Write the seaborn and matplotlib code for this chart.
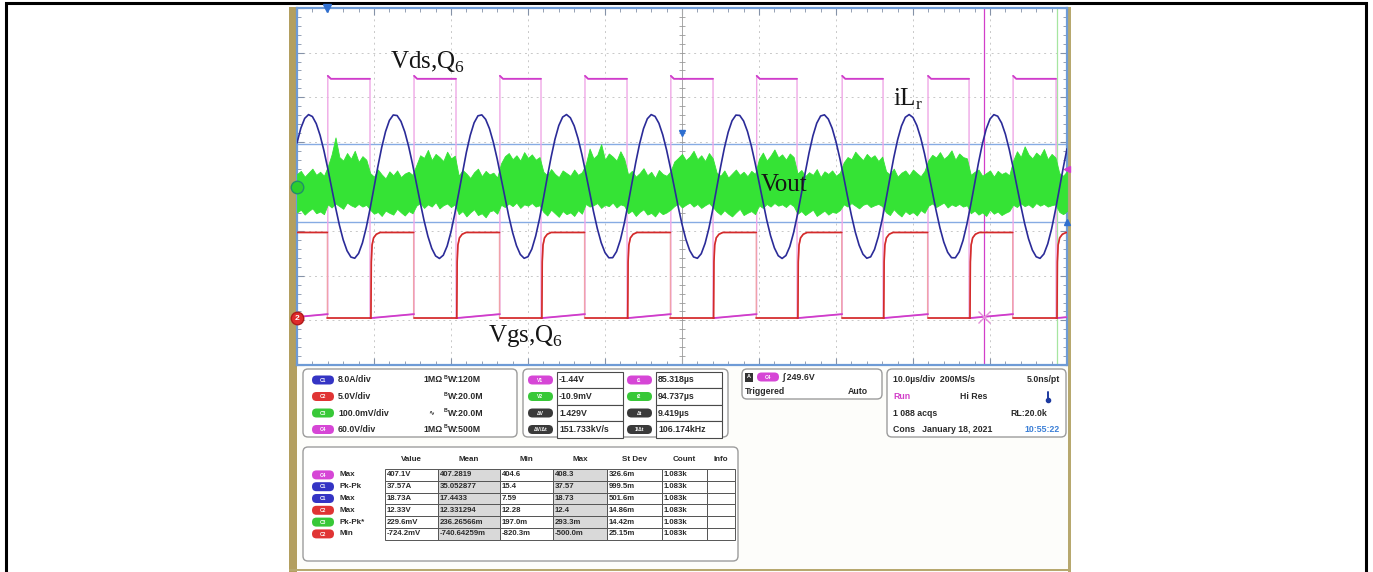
import numpy as np
import pandas as pd
import matplotlib
matplotlib.use("Agg")
import matplotlib.pyplot as plt
from matplotlib.patches import FancyBboxPatch, Rectangle
import seaborn as sns

# ---------------------------------------------------------------- data
t_window_us = [-3.9, 96.1]          # 10 div x 10 us/div, trigger at t = 0
sample_t0_us = -3.9
sample_step_us = 0.5

# channel vertical setup: units per division and ground position (div)
ch_scale = {"C1": 8.0, "C2": 5.0, "C3": 100.0, "C4": 60.0}   # A, V, mV, V
ch_offset_div = {"C1": 0.0, "C2": -2.95, "C3": 0.0, "C4": -2.95}

# C4: Vds of Q6 (switching edges and levels)
vds_rise_us = [0.1, 11.3, 22.45, 33.5, 44.65, 55.8, 66.9, 78.05, 89.1, 100.25]
vds_fall_us = [-5.55, 5.58, 16.75, 27.79, 38.96, 50.13, 61.04, 72.21, 83.38, 94.68]
vds_on_v = 321.8
vds_peak_v = 325.8
vds_settle_us = 0.4
vds_low_end_v = 5.4

# C2: Vgs of Q6
vgs_rise_us = [-5.45, 5.7, 16.85, 27.9, 39.05, 50.2, 61.15, 72.3, 83.5, 94.8]
vgs_fall_us = [0.05, 11.25, 22.4, 33.45, 44.6, 55.75, 66.85, 78.0, 89.05, 100.2]
vgs_rise_dt_us = [0.0, 0.05, 0.15, 0.35, 0.7, 1.2]
vgs_rise_v = [0.0, 6.3, 8.2, 9.0, 9.4, 9.6]

# C1: resonant inductor current iLr, one sample every 0.5 us (A)
ilr_a = [
    7.82, 10.46, 12.21, 12.89, 12.54, 11.27, 9.17, 6.41, 3.19, -0.27,
    -3.71, -6.89, -9.56, -11.52, -12.65, -12.86, -12.0, -10.1, -7.33, -3.92,
    -0.18, 3.56, 7.0, 9.85, 11.85, 12.82, 12.72, 11.68, 9.79, 7.18,
    4.05, 0.63, -2.84, -6.10, -8.92, -11.09, -12.45, -12.9, -12.32, -10.68,
    -8.12, -4.85, -1.17, 2.59, 6.15, 9.18, 11.42, 12.67, 12.84, 12.04,
    10.36, 7.92, 4.92, 1.53, -1.95, -5.29, -8.24, -10.59, -12.18, -12.87,
    -12.58, -11.21, -8.86, -5.75, -2.15, 1.64, 5.26, 8.46, 10.93, 12.45,
    12.9, 12.33, 10.87, 8.61, 5.74, 2.44, -1.03, -4.45, -7.52, -10.05,
    -11.85, -12.78, -12.76, -11.66, -9.56, -6.63, -3.12, 0.66, 4.36, 7.69,
    10.37, 12.15, 12.89, 12.57, 11.34, 9.27, 6.53, 3.32, -0.13, -3.58,
    -6.76, -9.46, -11.47, -12.63, -12.87, -12.05, -10.19, -7.46, -4.08, -0.34,
    3.43, 6.88, 9.75, 11.79, 12.8, 12.74, 11.74, 9.88, 7.30, 4.18,
    0.76, -2.71, -5.98, -8.82, -11.01, -12.41, -12.9, -12.37, -10.77, -8.24,
    -5.0, -1.33, 2.46, 6.04, 9.08, 11.35, 12.64, 12.85, 12.09, 10.44,
    8.03, 5.04, 1.69, -1.82, -5.16, -8.14, -10.51, -12.13, -12.86, -12.61,
    -11.29, -8.98, -5.9, -2.31, 1.48, 5.15, 8.36, 10.85, 12.41, 12.9,
    12.37, 10.94, 8.72, 5.86, 2.57, -0.9, -4.31, -7.42, -9.97, -11.79,
    -12.76, -12.78, -11.73, -9.66, -6.76, -3.28, 0.49, 4.22, 7.59, 10.28,
    12.1, 12.88, 12.6, 11.4, 9.38, 6.64, 3.44, 0.0, -3.44, -6.64,
    -9.36, -11.39, -12.6, -12.88, -12.1, -10.28, -7.59, -4.22, -0.49, 3.28,
    6.76,
]

# C3: output voltage ripple, max / min per 0.5 us column (mV)
vout_hi_mv = [
    28, 35, 22, 31, 40, 26, 33, 24,
    45, 72, 110, 66, 58, 75, 62, 80, 55, 68, 60,
    30, 22, 38, 27, 18, 34, 25, 36, 21, 29, 33, 26,
    48, 70, 64, 82, 59, 73, 66, 57, 78, 63, 69,
    24, 37, 29, 19, 32, 40, 23, 35, 27, 31, 20,
    52, 68, 75, 61, 70, 58, 77, 64, 72, 60, 66,
    33, 25, 39, 28, 21, 36, 30, 24, 38, 26, 32,
    50, 85, 63, 71, 95, 60, 74, 67, 58, 79, 62,
    27, 35, 22, 30, 41, 25, 33, 19, 37, 28, 24, 34,
    56, 64, 73, 59, 67, 80, 61, 70, 57, 75, 63,
    31, 24, 36, 20, 29, 38, 26, 33, 23, 35, 28,
    62, 76, 58, 69, 83, 65, 72, 60, 74, 66,
    29, 37, 23, 32, 26, 39, 21, 34, 28, 36, 24, 31,
    54, 66, 61, 78, 68, 59, 73, 64, 70, 57, 67,
    34, 27, 40, 22, 31, 36, 25, 38, 30, 23, 35,
    59, 71, 65, 77, 62, 69, 81, 60, 74, 66, 63,
    26, 33, 38, 24, 30, 36, 22, 35, 28, 32, 25,
    58, 79, 66, 90, 72, 63, 76, 68, 84, 61, 73, 65,
    30, 24, 34,
]
vout_lo_mv = [
    -58, -52, -63, -55, -49, -60, -56, -62,
    -40, -47, -38, -44, -50, -36, -42, -46, -39, -45, -41,
    -52, -61, -57, -66, -54, -59, -63, -50, -58, -65, -55, -60,
    -43, -37, -48, -40, -45, -35, -49, -42, -38, -46, -40,
    -62, -55, -67, -58, -51, -64, -60, -69, -56, -53, -61,
    -41, -46, -38, -44, -36, -48, -40, -43, -37, -45, -42,
    -57, -65, -52, -60, -68, -55, -62, -58, -66, -53, -61,
    -39, -45, -42, -37, -48, -41, -44, -36, -47, -40, -43,
    -60, -54, -66, -57, -51, -63, -59, -67, -55, -62, -58, -52,
    -44, -38, -47, -41, -36, -45, -39, -48, -42, -37, -46,
    -56, -63, -53, -61, -67, -58, -50, -64, -59, -55, -62,
    -42, -48, -39, -45, -37, -43, -40, -46, -38, -44,
    -61, -55, -64, -58, -52, -66, -60, -54, -63, -57, -59, -53,
    -40, -45, -37, -43, -49, -41, -38, -46, -42, -39, -44,
    -58, -64, -51, -60, -67, -55, -62, -57, -65, -53, -59,
    -43, -38, -46, -41, -36, -47, -40, -44, -39, -45, -42,
    -60, -54, -63, -58, -66, -52, -61, -56, -64, -59, -55,
    -41, -46, -38, -44, -40, -47, -37, -43, -39, -45, -42, -40,
    -57, -62, -55,
]

cursor_t_us = [85.318, 94.737]
cursor_h_div = [0.96, -0.80]
trig_level_v = 249.6

# readout panels
ch_names = ["C1", "C2", "C3", "C4"]
ch_scale_text = ["8.0A/div", "5.0V/div", "100.0mV/div", "60.0V/div"]
ch_term_text = ["1MΩ", "", "", "1MΩ"]
ch_bw_text = ["W:120M", "W:20.0M", "W:20.0M", "W:500M"]

cur_left_tags = ["V1", "V2", "ΔV", "ΔV/Δt"]
cur_left_vals = ["-1.44V", "-10.9mV", "1.429V", "151.733kV/s"]
cur_right_tags = ["t1", "t2", "Δt", "1/Δt"]
cur_right_vals = ["85.318µs", "94.737µs", "9.419µs", "106.174kHz"]

meas_cols = ["Value", "Mean", "Min", "Max", "St Dev", "Count", "Info"]
meas_src = ["C4", "C1", "C1", "C2", "C3", "C2"]
meas_name = ["Max", "Pk-Pk", "Max", "Max", "Pk-Pk*", "Min"]
meas_value = ["407.1V", "37.57A", "18.73A", "12.33V", "229.6mV", "-724.2mV"]
meas_mean = ["407.2819", "35.052877", "17.4433", "12.331294", "236.26566m", "-740.64259m"]
meas_min = ["404.6", "15.4", "7.59", "12.28", "197.0m", "-820.3m"]
meas_max = ["408.3", "37.57", "18.73", "12.4", "293.3m", "-500.0m"]
meas_sd = ["326.6m", "999.5m", "501.6m", "14.86m", "14.42m", "25.15m"]
meas_count = ["1.083k", "1.083k", "1.083k", "1.083k", "1.083k", "1.083k"]

# ---------------------------------------------------------------- style
sns.set_theme(style="white")
plt.rcParams["font.family"] = ["Liberation Sans", "DejaVu Sans"]

W, H, DPI = 1373, 572, 100
COL = {"C1": "#2b2b98", "C2": "#d42b2b", "C3": "#35e335", "C4": "#cf3ccb"}
BADGE = {"C1": "#3434c4", "C2": "#e03434", "C3": "#38c838", "C4": "#d646d6"}
TXT = "#2a2a2a"

fig = plt.figure(figsize=(W / DPI, H / DPI), dpi=DPI)
fig.patch.set_facecolor("white")

# pixel-space layers for the instrument frame and readouts
ov = fig.add_axes([0, 0, 1, 1], zorder=0)
ov.set_xlim(0, W); ov.set_ylim(H, 0); ov.axis("off")
top = fig.add_axes([0, 0, 1, 1], zorder=5)
top.set_xlim(0, W); top.set_ylim(H, 0); top.axis("off"); top.patch.set_alpha(0)

GX0, GY0, GX1, GY1 = 297, 8, 1067, 365
ax = fig.add_axes([GX0 / W, 1 - GY1 / H, (GX1 - GX0) / W, (GY1 - GY0) / H], zorder=2)


def to_div(vals, ch):
    return np.asarray(vals, float) / ch_scale[ch] + ch_offset_div[ch]


t0, t1 = t_window_us
t_s = sample_t0_us + sample_step_us * np.arange(len(ilr_a))

# ---------------------------------------------------------------- graticule
ax.set_facecolor("white")
ax.set_xlim(t0, t1); ax.set_ylim(-4, 4)
ax.set_xticks(np.arange(t0, t1 + 0.01, 10.0))
ax.set_yticks(np.arange(-4, 4.01, 1.0))
ax.set_xticks(np.arange(t0, t1 + 0.01, 2.0), minor=True)
ax.set_yticks(np.arange(-4, 4.01, 0.2), minor=True)
ax.tick_params(which="both", direction="in", top=True, right=True, bottom=True, left=True,
               labelbottom=False, labelleft=False, color="#8592a8")
ax.tick_params(which="major", length=5, width=0.8)
ax.tick_params(which="minor", length=3, width=0.6)
ax.grid(which="major", color="#c8c8c8", linestyle=(0, (2, 4)), lw=0.7)
for s in ax.spines.values():
    s.set_color("#6e9bd6"); s.set_linewidth(1.6)
xc = (t0 + t1) / 2
ax.axvline(xc, color="#a8a8a8", lw=0.7, zorder=1)
ax.axhline(0, color="#a8a8a8", lw=0.7, zorder=1)
ax.plot(np.full(41, xc), np.arange(-4, 4.01, 0.2), ls="none", marker="_", ms=4, color="#9a9a9a", mew=0.6)
ax.plot(np.arange(t0, t1 + 0.01, 2.0), np.zeros(51), ls="none", marker="|", ms=4, color="#9a9a9a", mew=0.6)

# cursors
for yv in cursor_h_div:
    ax.axhline(yv, color="#86abe3", lw=1.0, zorder=2)
ax.axvline(cursor_t_us[0], color="#d23fc9", lw=0.9, zorder=2)
ax.axvline(cursor_t_us[1], color="#a6e6a0", lw=0.9, zorder=2)

# ---------------------------------------------------------------- C4 Vds
full, segs = [], []
for k in range(len(vds_rise_us)):
    low = [(vds_fall_us[k], 0.0), (vds_rise_us[k], vds_low_end_v)]
    full += low
    segs += [(x, y, f"L{k}") for x, y in low]
    if k + 1 < len(vds_fall_us):
        high = [(vds_rise_us[k], vds_peak_v), (vds_rise_us[k] + vds_settle_us, vds_on_v),
                (vds_fall_us[k + 1], vds_on_v)]
        full += high
        segs += [(x, y, f"H{k}") for x, y in high]
vds_full = pd.DataFrame(full, columns=["t", "v"])
vds_full["div"] = to_div(vds_full["v"], "C4")
vds_seg = pd.DataFrame(segs, columns=["t", "v", "seg"])
vds_seg["div"] = to_div(vds_seg["v"], "C4")
sns.lineplot(data=vds_full, x="t", y="div", sort=False, estimator=None, color="#efa8e6", lw=1.0, ax=ax, zorder=3)
sns.lineplot(data=vds_seg, x="t", y="div", units="seg", sort=False, estimator=None,
             color=COL["C4"], lw=1.3, ax=ax, zorder=4)

# ---------------------------------------------------------------- C2 Vgs
full, segs = [], []
for k in range(len(vgs_rise_us)):
    on = [(vgs_rise_us[k] + dt, v) for dt, v in zip(vgs_rise_dt_us, vgs_rise_v)]
    on += [(vgs_fall_us[k], vgs_rise_v[-1])]
    off = [(vgs_fall_us[k], 0.0)]
    if k + 1 < len(vgs_rise_us):
        off += [(vgs_rise_us[k + 1], 0.0)]
    full += on + off
    segs += [(x, y, f"N{k}") for x, y in on] + [(x, y, f"F{k}") for x, y in off]
vgs_full = pd.DataFrame(full, columns=["t", "v"])
vgs_full["div"] = to_div(vgs_full["v"], "C2")
vgs_seg = pd.DataFrame(segs, columns=["t", "v", "seg"])
vgs_seg["div"] = to_div(vgs_seg["v"], "C2")
sns.lineplot(data=vgs_full, x="t", y="div", sort=False, estimator=None, color="#f0a2aa", lw=1.0, ax=ax, zorder=3)
sns.lineplot(data=vgs_seg, x="t", y="div", units="seg", sort=False, estimator=None,
             color=COL["C2"], lw=1.2, ax=ax, zorder=4)

# ---------------------------------------------------------------- C3 Vout ripple
hi = to_div(vout_hi_mv, "C3")
lo = to_div(vout_lo_mv, "C3")
ax.fill_between(t_s, lo, hi, color=COL["C3"], lw=0.6, edgecolor=COL["C3"], zorder=5)

# ---------------------------------------------------------------- C1 iLr
ilr = pd.DataFrame({"t": t_s, "div": to_div(ilr_a, "C1")})
sns.lineplot(data=ilr, x="t", y="div", sort=False, estimator=None, color=COL["C1"], lw=1.2, ax=ax, zorder=6)
ax.set_xlabel(""); ax.set_ylabel("")

# markers: ground references, trigger, cursor readout point
ax.plot(t0, ch_offset_div["C3"], "o", ms=9, color="#2ccf2c", mec="#1f8f6a", mew=1.0, clip_on=False, zorder=9)
ax.plot(t0, ch_offset_div["C2"], "o", ms=9, color="#e02a2a", mec="#b01a1a", clip_on=False, zorder=9)
ax.text(t0, ch_offset_div["C2"], "2", color="white", fontsize=6, fontweight="bold",
        ha="center", va="center", zorder=10, clip_on=False)
ax.plot(0, 4, "v", ms=6, color="#2f6fd0", clip_on=False, zorder=9)
ax.plot(xc, trig_level_v / ch_scale["C4"] + ch_offset_div["C4"], "v", ms=5, color="#2f6fd0", zorder=9)
ax.plot(t1, cursor_h_div[1], "^", ms=5, color="#2f6fd0", clip_on=False, zorder=9)
ax.plot(t1, 0.4, "<", ms=4, color="#d23fc9", clip_on=False, zorder=9)
xt = cursor_t_us[0]
ax.plot(xt, np.interp(xt, vds_full["t"], vds_full["div"]), "x", ms=9, mew=1.0, color="#e58fd9", zorder=9)

# trace labels
SERIF = ["Liberation Serif", "DejaVu Serif"]
top.text(390, 69, r"Vds,Q$_{\mathregular{6}}$", fontsize=18, family=SERIF, color="#151515", va="baseline")
top.text(893, 106, r"iL$_{\mathregular{r}}$", fontsize=18, family=SERIF, color="#151515", va="baseline")
top.text(761, 191, "Vout", fontsize=18, family=SERIF, color="#151515", va="baseline")
top.text(488, 342, r"Vgs,Q$_{\mathregular{6}}$", fontsize=18, family=SERIF, color="#151515", va="baseline")

# ---------------------------------------------------------------- instrument frame
ov.add_patch(Rectangle((297, GY1), 771, H - GY1, fc="#fdfdfa", ec="none"))
ov.add_patch(Rectangle((289, 7), 8, H - 7, fc="#b39f5f", ec="none"))
ov.add_patch(Rectangle((1068, 7), 2.5, H - 7, fc="#b7a86e", ec="none"))
ov.add_patch(Rectangle((289, 568.5), 781, 2.5, fc="#b7a86e", ec="none"))
ov.plot([5.5, 5.5, 1365.5, 1365.5], [H + 5, 2.5, 2.5, H + 5], color="black", lw=2.2, clip_on=False,
        solid_joinstyle="miter")


def panel(x0, y0, x1, y1):
    ov.add_patch(FancyBboxPatch((x0, y0), x1 - x0, y1 - y0, boxstyle="round,pad=0,rounding_size=5",
                                fc="white", ec="#9c9c9c", lw=1.0))


def badge(x, y, color, label, w=22, h=9):
    ov.add_patch(FancyBboxPatch((x, y - h / 2), w, h, boxstyle=f"round,pad=0,rounding_size={h / 2}",
                                fc=color, ec="none", zorder=3))
    ov.text(x + w / 2, y + 0.3, label, fontsize=3.6, color="white", fontweight="bold",
            ha="center", va="center", zorder=4)


def txt(x, y, s, size=6.3, color=TXT, ha="left", weight="bold"):
    ov.text(x, y, s, fontsize=size, color=color, fontweight=weight, ha=ha, va="center", zorder=4)


rows_y = [380, 396.5, 413, 429.5]

# channel settings
panel(303, 369, 517, 437)
for i, ch in enumerate(ch_names):
    y = rows_y[i]
    badge(312, y, BADGE[ch], ch)
    txt(338, y, ch_scale_text[i])
    if ch_term_text[i]:
        txt(423, y, ch_term_text[i])
    txt(443.5, y - 2.5, "B", size=3.8)
    txt(447.5, y, ch_bw_text[i])
txt(428, rows_y[2], "∿", size=5)

# cursor readouts
panel(523, 369, 728, 437)
cell_h = 16.5
for i in range(4):
    y = rows_y[i]
    c_l = BADGE["C4"] if i == 0 else (BADGE["C3"] if i == 1 else "#3a3a3a")
    badge(528, y, c_l, cur_left_tags[i], w=25)
    badge(627, y, c_l, cur_right_tags[i], w=25)
    for cx in (557, 656):
        ov.add_patch(Rectangle((cx, y - cell_h / 2), 66, cell_h, fc="white", ec="#4a4a4a", lw=0.8, zorder=2))
    txt(559, y, cur_left_vals[i])
    txt(658, y, cur_right_vals[i])

# trigger
panel(742, 369, 882, 399)
ov.add_patch(Rectangle((745, 372.5), 8, 9, fc="#333333", ec="none", zorder=3))
ov.text(749, 377, "A", fontsize=4, color="white", fontweight="bold", ha="center", va="center", zorder=4)
badge(757, 377, BADGE["C4"], "C4")
txt(783, 377, "∫ 249.6V")
txt(745, 392, "Triggered")
txt(848, 392, "Auto")

# timebase / acquisition
panel(887, 369, 1066, 437)
txt(893, rows_y[0], "10.0µs/div  200MS/s")
txt(1060, rows_y[0], "5.0ns/pt", ha="right")
txt(893, rows_y[1], "Run", color="#d23fc9")
txt(960, rows_y[1], "Hi Res")
ov.plot([1048, 1048], [rows_y[1] - 5, rows_y[1] + 2], color="#1d3aa0", lw=1.4, zorder=4)
ov.plot(1048, rows_y[1] + 3, "o", ms=3, color="#1d3aa0", zorder=4)
txt(893, rows_y[2], "1 088 acqs")
txt(1010, rows_y[2], "RL:20.0k")
txt(893, rows_y[3], "Cons   January 18, 2021")
txt(1060, rows_y[3], "10:55:22", color="#3b7fd6", ha="right")

# measurement table
panel(303, 447, 738, 561)
col_x = [385, 438, 500, 553, 607, 662, 707, 735]
row_top, row_h = 469, 11.8
for j, name in enumerate(meas_cols):
    txt((col_x[j] + col_x[j + 1]) / 2, 459.5, name, size=5.8, ha="center")
cols = [meas_value, meas_mean, meas_min, meas_max, meas_sd, meas_count]
for i in range(len(meas_src)):
    y0 = row_top + i * row_h
    yc = y0 + row_h / 2
    badge(312, yc, BADGE[meas_src[i]], meas_src[i])
    txt(339, yc, meas_name[i], size=5.8)
    for j in range(7):
        shade = "#d9d9d9" if j in (1, 3) else "white"
        ov.add_patch(Rectangle((col_x[j], y0), col_x[j + 1] - col_x[j], row_h,
                               fc=shade, ec="#555555", lw=0.7, zorder=2))
        if j < 6:
            txt(col_x[j] + 2, yc, cols[j][i], size=5.6)

fig.savefig("out.png", dpi=DPI, facecolor="white")
